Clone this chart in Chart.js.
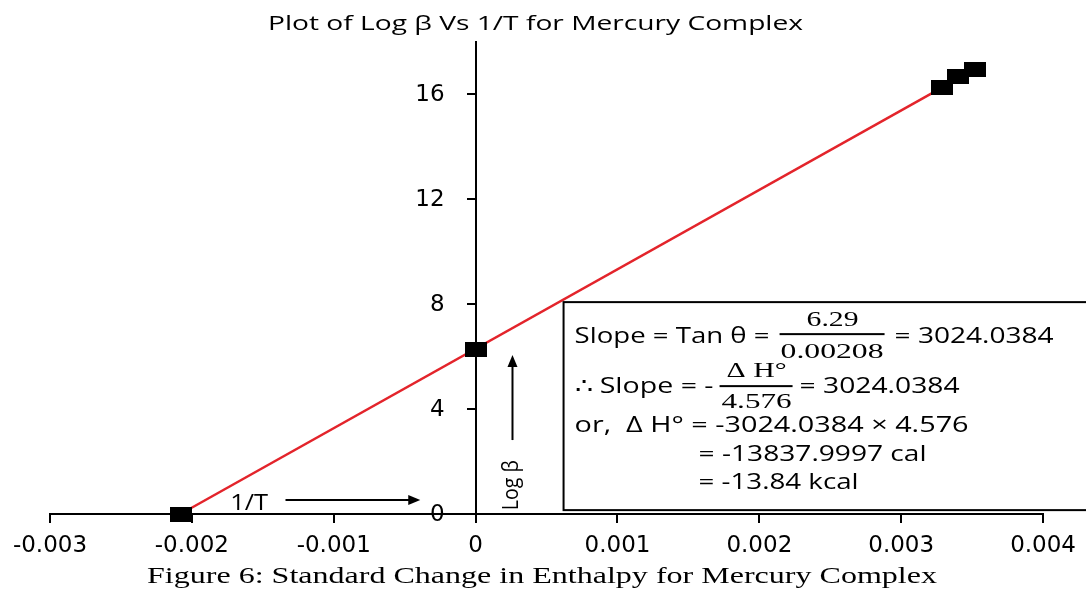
<!DOCTYPE html>
<html>
<head>
<meta charset="utf-8">
<script src="https://cdn.jsdelivr.net/npm/chart.js@4.4.0/dist/chart.umd.min.js"></script>
<style>
  html, body { margin: 0; padding: 0; background: #fff; }
  #wrap { width: 1086px; height: 589px; }
</style>
</head>
<body>
<div id="wrap"><canvas id="chart" width="1086" height="589"></canvas></div>
<script>
// values
const invT = [-0.00208, 0, 0.00329, 0.0034, 0.00352];
const logBeta = [0, 6.29, 16.27, 16.67, 16.95];
// ends of the red fit line
const fitX = [-0.00208, 0.00329];
const fitY = [0, 16.27];
const xTicks = [-0.003, -0.002, -0.001, 0, 0.001, 0.002, 0.003, 0.004];
const yTicks = [0, 4, 8, 12, 16];

const titleText = "Plot of Log \u03b2 Vs 1/T for Mercury Complex";
const captionText = "Figure 6: Standard Change in Enthalpy for Mercury Complex";

// black marker, a bit wider than tall like the picture
const marker = document.createElement("canvas");
marker.width = 22;
marker.height = 15;
const mctx = marker.getContext("2d");
mctx.fillStyle = "#000";
mctx.fillRect(0, 0, 22, 15);

const SANS = "'Open Sans', sans-serif";
const SERIF = "'Liberation Serif', serif";
const TICKS = "'DejaVu Sans', sans-serif";

// draw text squeezed/stretched to a given width
function fitText(ctx, text, x, y, w, font) {
  ctx.save();
  ctx.font = font;
  ctx.textAlign = "left";
  ctx.textBaseline = "alphabetic";
  const mw = ctx.measureText(text).width;
  ctx.translate(x, y);
  ctx.scale(w / mw, 1);
  ctx.fillText(text, 0, 0);
  ctx.restore();
}

function arrow(ctx, x1, y1, x2, y2) {
  const a = Math.atan2(y2 - y1, x2 - x1);
  ctx.save();
  ctx.strokeStyle = "#000";
  ctx.fillStyle = "#000";
  ctx.lineWidth = 2;
  ctx.beginPath();
  ctx.moveTo(x1, y1);
  ctx.lineTo(x2 - 8 * Math.cos(a), y2 - 8 * Math.sin(a));
  ctx.stroke();
  ctx.translate(x2, y2);
  ctx.rotate(a);
  ctx.beginPath();
  ctx.moveTo(0, 0);
  ctx.lineTo(-12, -5);
  ctx.lineTo(-12, 5);
  ctx.closePath();
  ctx.fill();
  ctx.restore();
}

const decorations = {
  id: "decorations",
  afterDraw(chart) {
    const ctx = chart.ctx;
    const xs = chart.scales.x;
    const ys = chart.scales.y;
    ctx.save();
    ctx.fillStyle = "#000";

    // y tick labels (left of the axis that sits at x = 0)
    const axisX = xs.getPixelForValue(0);
    ctx.font = "23px " + TICKS;
    ctx.textAlign = "right";
    ctx.textBaseline = "middle";
    ys.ticks.forEach((t) => {
      ctx.fillText(String(t.value), axisX - 31, ys.getPixelForValue(t.value) + 1);
    });

    // title + caption
    fitText(ctx, titleText, 268, 30, 535, "20px " + SANS);
    fitText(ctx, captionText, 147, 583, 790, "23px " + SERIF);

    // 1/T label and arrow
    const ax0 = xs.getPixelForValue(-0.00134);
    const ax1 = xs.getPixelForValue(-0.00039);
    const ay = ys.getPixelForValue(0.53);
    fitText(ctx, "1/T", xs.getPixelForValue(-0.00173), ys.getPixelForValue(0.15), 38, "21px " + SANS);
    arrow(ctx, ax0, ay, ax1, ay);

    // Log beta label and arrow
    const lx = xs.getPixelForValue(0.00026);
    arrow(ctx, lx, ys.getPixelForValue(2.82), lx, ys.getPixelForValue(6.06));
    ctx.save();
    ctx.translate(xs.getPixelForValue(0.000252) + 7, ys.getPixelForValue(1.1));
    ctx.rotate(-Math.PI / 2);
    fitText(ctx, "Log \u03b2", -25, 0, 50, "21px " + SANS);
    ctx.restore();

    // text box
    const bl = xs.getPixelForValue(0.00062);
    const bt = ys.getPixelForValue(8.08);
    ctx.strokeStyle = "#000";
    ctx.lineWidth = 2;
    ctx.fillStyle = "#fff";
    ctx.fillRect(bl, bt, 540, 208);
    ctx.strokeRect(bl, bt, 540, 208);
    ctx.fillStyle = "#000";
    const f = "21px " + SANS;
    const fs = "22px " + SERIF;
    fitText(ctx, "Slope = Tan \u03b8 =", bl + 11, bt + 41, 195, f);
    fitText(ctx, "6.29", bl + 243, bt + 24, 52, fs);
    ctx.fillRect(bl + 216, bt + 31, 105, 2);
    fitText(ctx, "0.00208", bl + 217, bt + 56, 103, fs);
    fitText(ctx, "= 3024.0384", bl + 331, bt + 41, 159, f);

    fitText(ctx, "\u2234 Slope = -", bl + 11, bt + 91, 139, f);
    fitText(ctx, "\u0394 H\u00b0", bl + 163, bt + 75, 60, fs);
    ctx.fillRect(bl + 156, bt + 83, 73, 2);
    fitText(ctx, "4.576", bl + 158, bt + 106, 70, fs);
    fitText(ctx, "= 3024.0384", bl + 236, bt + 91, 160, f);

    fitText(ctx, "or,  \u0394 H\u00b0 = -3024.0384 \u00d7 4.576", bl + 11, bt + 130, 394, f);
    fitText(ctx, "= -13837.9997 cal", bl + 135, bt + 159, 228, f);
    fitText(ctx, "= -13.84 kcal", bl + 135, bt + 187, 160, f);
    ctx.restore();
  },
};

new Chart(document.getElementById("chart"), {
  type: "scatter",
  data: {
    datasets: [
      {
        type: "line",
        data: fitX.map((x, i) => ({ x: x, y: fitY[i] })),
        borderColor: "#e3242b",
        borderWidth: 2.5,
        pointRadius: 0,
        fill: false,
        clip: false,
        order: 2,
      },
      {
        data: invT.map((x, i) => ({ x: x, y: logBeta[i] })),
        pointStyle: marker,
        pointRadius: 11,
        backgroundColor: "#000",
        borderColor: "#000",
        clip: false,
        order: 1,
      },
    ],
  },
  options: {
    responsive: false,
    animation: false,
    layout: { padding: { left: 50, right: 38, top: 42, bottom: 75 } },
    plugins: {
      legend: { display: false },
      tooltip: { enabled: false },
      title: { display: false },
    },
    scales: {
      x: {
        type: "linear",
        min: -0.003,
        max: 0.004,
        position: { y: 0 },
        afterBuildTicks: (s) => { s.ticks = xTicks.map((v) => ({ value: v })); },
        grid: { drawOnChartArea: false, drawTicks: true, tickLength: 8, color: "#000", lineWidth: 2 },
        border: { display: true, color: "#000", width: 2 },
        ticks: {
          color: "#000",
          font: { family: TICKS, size: 23 },
          padding: 10,
          maxRotation: 0,
          callback: (v) => (v === 0 ? "0" : v.toFixed(3)),
        },
      },
      y: {
        type: "linear",
        min: 0,
        max: 18,
        position: { x: 0 },
        afterBuildTicks: (s) => { s.ticks = yTicks.map((v) => ({ value: v })); },
        grid: { drawOnChartArea: false, drawTicks: true, tickLength: 8, color: "#000", lineWidth: 2 },
        border: { display: true, color: "#000", width: 2 },
        ticks: { display: false },
      },
    },
  },
  plugins: [decorations],
});
</script>
</body>
</html>
